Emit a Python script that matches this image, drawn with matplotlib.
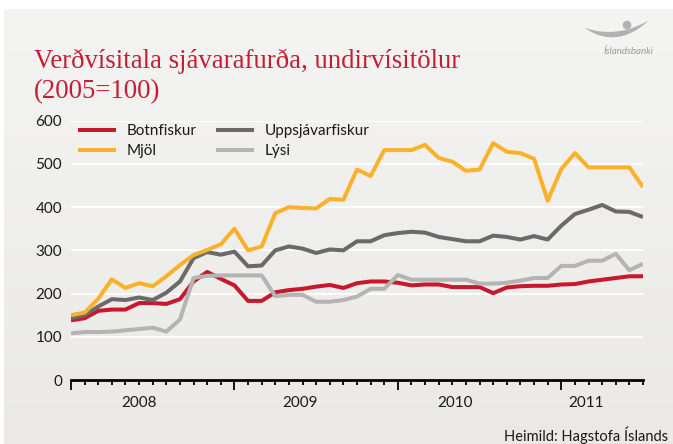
import matplotlib
matplotlib.use("Agg")
import matplotlib.pyplot as plt
import numpy as np

plt.rcParams['font.family'] = ['Lato', 'DejaVu Sans']

#### Data (monthly index)
botnfiskur = [138, 143, 160, 163, 163, 178, 178, 176, 187, 228, 250, 234, 219,
              183, 183, 203, 208, 211, 216, 220, 213, 224, 228, 228, 225, 219,
              221, 221, 215, 215, 215, 201, 214, 217, 218, 218, 221, 222, 228,
              232, 236, 240, 240]
uppsjavarfiskur = [143, 150, 170, 187, 185, 191, 185, 202, 228, 282, 296, 290,
                   297, 263, 265, 300, 309, 304, 294, 302, 300, 321, 321, 335,
                   340, 343, 341, 331, 326, 321, 321, 334, 331, 325, 333, 325,
                   357, 384, 394, 405, 390, 389, 377]
mjol = [150, 156, 188, 233, 213, 224, 217, 240, 266, 289, 301, 314, 350, 300,
        309, 386, 400, 398, 397, 419, 417, 487, 472, 532, 532, 532, 544, 514,
        505, 484, 487, 548, 528, 525, 512, 415, 488, 525, 492, 492, 492, 492,
        446]
lysi = [108, 111, 111, 112, 115, 118, 121, 112, 140, 236, 241, 242, 242, 242,
        242, 194, 197, 197, 181, 181, 185, 193, 211, 211, 243, 232, 232, 232,
        232, 232, 223, 223, 225, 230, 236, 236, 264, 264, 276, 276, 292, 254,
        269]

series_names = ['Botnfiskur', 'Uppsjávarfiskur', 'Mjöl', 'Lýsi']
series_colors = ['#c8182d', '#6a6a6a', '#fbb22a', '#b4b4b4']
years = ['2008', '2009', '2010', '2011']
year_pos = [5, 16.8, 28.2, 37.8]
yticks = [0, 100, 200, 300, 400, 500, 600]

W, H = 673, 444
fig = plt.figure(figsize=(W / 100, H / 100), dpi=100)
fig.patch.set_facecolor('white')

# background panel with a soft vertical gradient
bg = fig.add_axes([4 / W, 0, (W - 4) / W, (H - 9) / H])
grad = np.linspace(0, 1, 256).reshape(-1, 1)
c_top = np.array([0.957, 0.957, 0.953])
c_bot = np.array([0.918, 0.914, 0.898])
img = c_top + (c_bot - c_top) * grad[..., None]
bg.imshow(img, aspect='auto', extent=[0, 1, 0, 1], origin='upper')
bg.axis('off')

# main chart
ax = fig.add_axes([71 / W, 64 / H, 572 / W, 259.3 / H])
ax.set_facecolor('none')
x = np.arange(len(botnfiskur))
data = [botnfiskur, uppsjavarfiskur, mjol, lysi]
lines = []
for vals, name, col in zip(data, series_names, series_colors):
    ln, = ax.plot(x, vals, color=col, lw=2.9, label=name,
                  solid_joinstyle='round', solid_capstyle='butt')
    lines.append(ln)

ax.set_xlim(0, len(x) - 1)
ax.set_ylim(0, 600)
ax.set_yticks(yticks)
ax.set_yticklabels([str(v) for v in yticks], fontsize=11, color='#1a1a1a')
ax.yaxis.grid(True, color='white', lw=1.3)
ax.set_axisbelow(True)
ax.tick_params(axis='y', length=0, pad=6.5)

ax.set_xticks([0, 12, 24, 36])
ax.set_xticks(x, minor=True)
ax.set_xticklabels([])
ax.tick_params(axis='x', which='major', length=7.5, width=1.3, color='black')
ax.tick_params(axis='x', which='minor', length=3.8, width=1.3, color='black')
for s in ['top', 'right', 'left']:
    ax.spines[s].set_visible(False)
ax.spines['bottom'].set_linewidth(2)
ax.spines['bottom'].set_color('black')

for yr, xp in zip(years, year_pos):
    ax.text(xp, -0.089, yr, transform=ax.get_xaxis_transform(),
            ha='center', va='center', fontsize=11, color='#1a1a1a')

# legend: two columns
order = [0, 2, 1, 3]
leg = fig.legend([lines[i] for i in order], [series_names[i] for i in order],
                 ncol=2, loc='upper left', bbox_to_anchor=(78 / W, 1 - 124 / H),
                 frameon=False, fontsize=11, handlelength=2.5,
                 handletextpad=0.7, columnspacing=1.25, labelspacing=0.42,
                 borderpad=0, borderaxespad=0)
for t in leg.get_texts():
    t.set_color('#1a1a1a')

# title
red = '#c41e34'
fig.text(34 / W, 1 - 68 / H, 'Verðvísitala sjávarafurða, undirvísitölur',
         fontsize=19.3, color=red, family='Liberation Serif', va='baseline')
fig.text(34 / W, 1 - 98 / H, '(2005=100)',
         fontsize=19.3, color=red, family='Liberation Serif', va='baseline')

# source
fig.text(668 / W, 1 - 435 / H, 'Heimild: Hagstofa Íslands', fontsize=10.5,
         color='#1a1a1a', ha='right', va='center')

# logo (pixel coords overlay)
ov = fig.add_axes([0, 0, 1, 1])
ov.set_xlim(0, W)
ov.set_ylim(H, 0)
ov.axis('off')
t = np.linspace(0, 1, 60)
xs = 585 + 63 * t
centre = (1 - t) ** 2 * 28 + 2 * t * (1 - t) * 44 + t ** 2 * 21
half = 2.8 * np.sin(np.pi * t) ** 0.8
ov.fill(np.r_[xs, xs[::-1]], np.r_[centre - half, (centre + half)[::-1]],
        color='#b2b2b2', lw=0)
ov.add_patch(plt.Circle((627, 25), 4.3, color='#b2b2b2', lw=0))
ov.text(629, 52, 'Íslandsbanki', fontsize=7, style='italic', color='#9a9a9a',
        ha='center', va='center')

fig.savefig('out.png', dpi=100)
